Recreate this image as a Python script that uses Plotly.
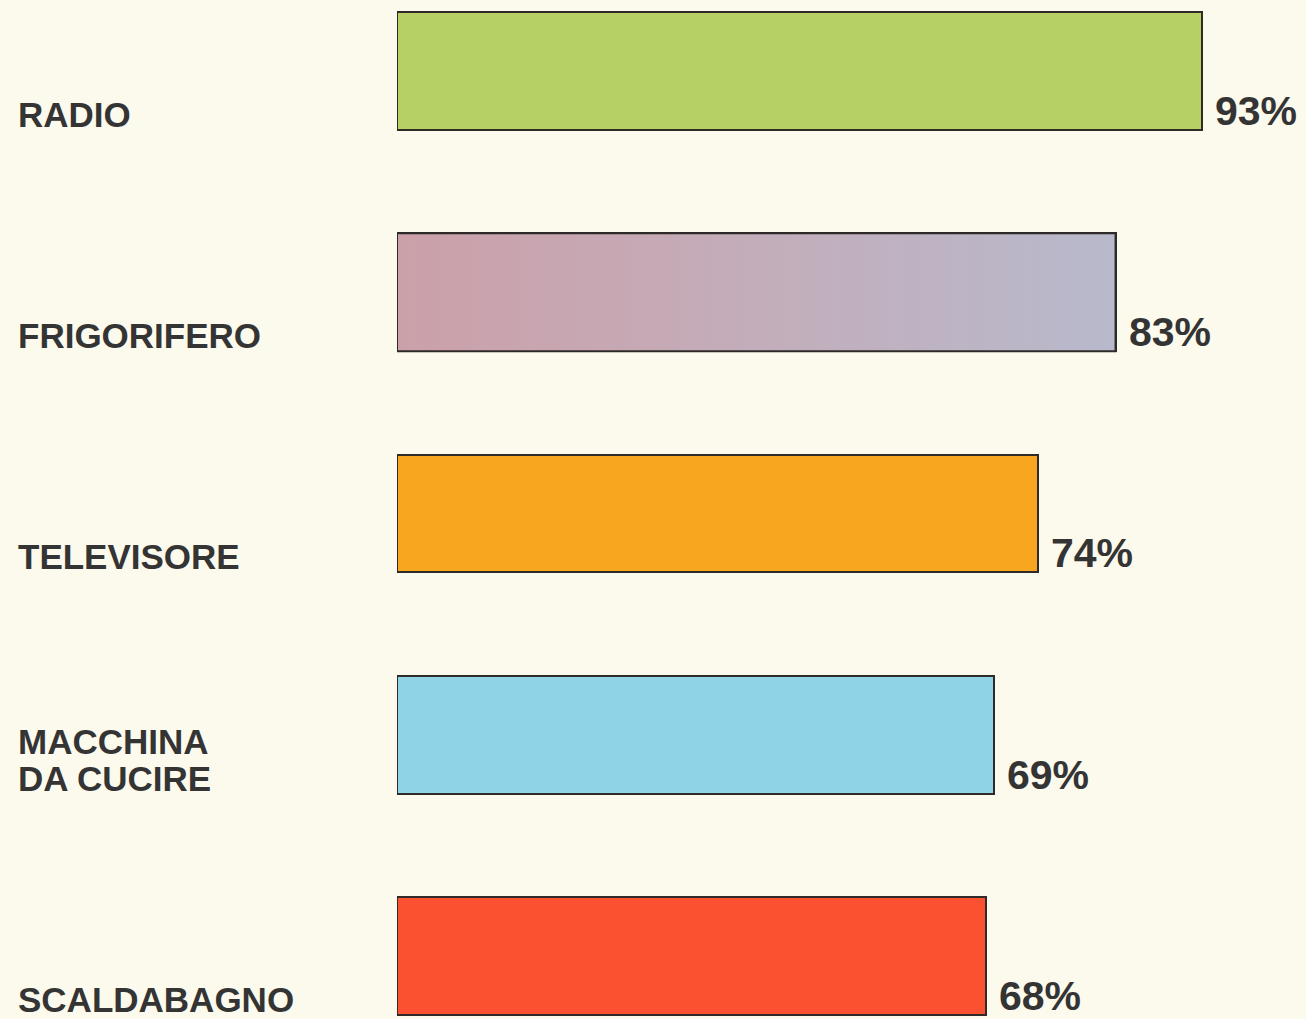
import plotly.graph_objects as go

# Household appliance ownership (%)
categories = ["RADIO", "FRIGORIFERO", "TELEVISORE", "MACCHINA<br>DA CUCIRE", "SCALDABAGNO"]
values = [93, 83, 74, 69, 68]
bar_colors = ["#B6D064", "#C3ADBA", "#F8A620", "#8FD4E6", "#FB5131"]
value_labels = ["93%", "83%", "74%", "69%", "68%"]

BG = "#FCFAEC"
INK = "#343434"
OUTLINE = "#2E2A28"
BAR_WIDTH = 0.533
positions = list(range(len(categories)))

fig = go.Figure()

fig.add_trace(go.Bar(
    x=values,
    y=positions,
    orientation="h",
    width=BAR_WIDTH,
    marker=dict(color=bar_colors, line=dict(color=OUTLINE, width=2)),
    hoverinfo="skip",
    showlegend=False,
))

# Pink-to-lavender shading of the refrigerator bar
fi = categories.index("FRIGORIFERO")
half = BAR_WIDTH / 2
fig.add_trace(go.Scatter(
    x=[0, values[fi], values[fi], 0, 0],
    y=[fi - half, fi - half, fi + half, fi + half, fi - half],
    mode="lines",
    fill="toself",
    fillgradient=dict(
        type="horizontal",
        colorscale=[[0, "#CBA0A9"], [0.5, "#C3ADBA"], [1, "#B8B9CC"]],
    ),
    line=dict(color=OUTLINE, width=2),
    hoverinfo="skip",
    showlegend=False,
))

annotations = []
label_x = (16 - 397) / 909
line_gap = 37
for i, (cat, val, txt) in enumerate(zip(categories, values, value_labels)):
    lines = cat.split("<br>")
    for k, line in enumerate(lines):
        annotations.append(dict(
            text=line,
            xref="paper", x=label_x, xanchor="left",
            yref="y", y=i + half, yanchor="bottom",
            yshift=-6 + (len(lines) - 1 - k) * line_gap,
            showarrow=False,
            font=dict(family="Liberation Sans", size=35, color=INK, weight="bold"),
        ))
    annotations.append(dict(
        text=txt,
        xref="x", x=val, xanchor="left", xshift=11,
        yref="y", y=i + half, yanchor="bottom", yshift=-6,
        showarrow=False,
        font=dict(family="Liberation Sans", size=41, color=INK, weight="bold"),
    ))

fig.update_layout(
    width=1306,
    height=1019,
    margin=dict(l=397, r=0, t=0, b=0),
    paper_bgcolor=BG,
    plot_bgcolor=BG,
    xaxis=dict(range=[0, 105], visible=False, fixedrange=True),
    yaxis=dict(range=[4.285, -0.321], visible=False, fixedrange=True),
    annotations=annotations,
    bargap=0,
)

fig.write_html("out.html")
